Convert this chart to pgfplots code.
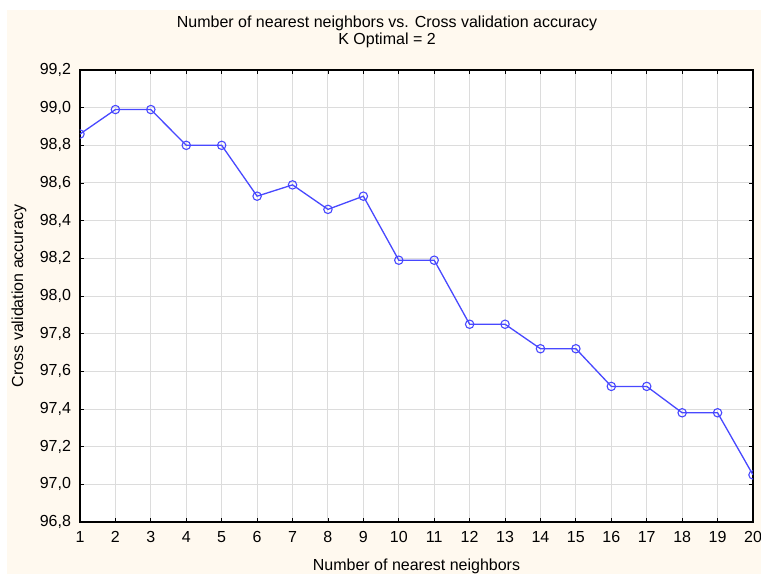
\documentclass[border=0pt]{standalone}
\usepackage{fontspec}
\setmainfont{Liberation Sans}
\usepackage{pgfplots}
\pgfplotsset{compat=1.18}
\definecolor{cream}{HTML}{FFF9EF}
\definecolor{lineblue}{HTML}{4848FF}
\definecolor{gridgray}{HTML}{DCDCDC}
\begin{document}
\fontsize{16}{17}\selectfont
\begin{tikzpicture}[x=1pt,y=1pt]
\fill[white] (-80,-52) rectangle (681,522);
\fill[cream] (-73,-52) rectangle (681,512);
\path[use as bounding box] (-80,-52) rectangle (681,522);
\begin{axis}[
  at={(0,0)}, anchor=south west,
  scale only axis, width=673pt, height=452pt,
  xmin=1, xmax=20, ymin=96.8, ymax=99.2,
  xtick={1,2,...,20},
  ytick={96.8,97,97.2,97.4,97.6,97.8,98,98.2,98.4,98.6,98.8,99,99.2},
  yticklabel style={/pgf/number format/.cd, fixed, fixed zerofill, precision=1, use comma, assume math mode=true, /tikz/.cd, xshift=-3.5pt},
  xticklabel style={/pgf/number format/assume math mode=true, yshift=-4pt},
  grid=major,
  major grid style={gridgray, line width=1pt},
  axis background/.style={fill=white},
  tick align=inside,
  major tick length=4pt,
  tick style={black, line width=0.8pt},
  axis line style={black, line width=1.3pt},
  clip marker paths=true,
  title={Number of nearest neighbors vs. Cross validation accuracy\\K Optimal = 2},
  title style={align=center, at={(axis description cs:0.4562,1)}, anchor=center, yshift=32pt, font=\fontsize{16}{17}\selectfont},
  xlabel={Number of nearest neighbors},
  xlabel style={at={(axis description cs:0.5,0)}, anchor=base, yshift=-48pt},
  ylabel={Cross validation accuracy},
  ylabel style={at={(axis description cs:-0.0906,0.5)}, anchor=center},
]
\addplot[lineblue, line width=1.3pt, mark=o, mark size=4.2pt, mark options={line width=1.1pt}]
coordinates {
(1,98.86) (2,98.99) (3,98.99) (4,98.80) (5,98.80) (6,98.53) (7,98.59) (8,98.46) (9,98.53) (10,98.19)
(11,98.19) (12,97.85) (13,97.85) (14,97.72) (15,97.72) (16,97.52) (17,97.52) (18,97.38) (19,97.38) (20,97.05)
};
\end{axis}
\end{tikzpicture}
\end{document}
